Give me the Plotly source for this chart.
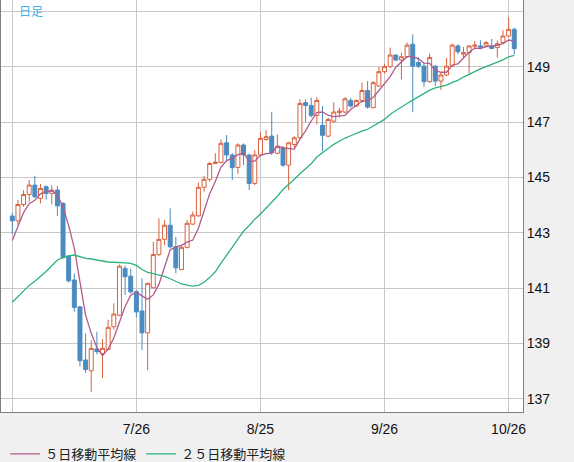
import pandas as pd
import plotly.graph_objects as go

# daily candles, 2023-06-26 .. 2023-10-27 (weekdays)
dates = [d.strftime("%Y-%m-%d") for d in pd.bdate_range("2023-06-26", "2023-10-27")]

opens = [143.60, 143.43, 144.02, 144.38, 144.72, 144.24, 144.66, 144.42, 144.54, 144.06,
         142.16, 141.29, 140.32, 138.40, 138.01, 138.80, 138.64, 138.78, 139.60, 140.02,
         141.71, 141.43, 140.87, 140.17, 139.38, 141.01, 142.21, 142.76, 143.27, 142.49,
         141.67, 142.47, 143.31, 143.61, 144.64, 144.93, 145.50, 145.54, 146.25, 145.81,
         145.36, 146.17, 145.81, 144.78, 145.81, 146.37, 146.49, 145.87, 146.07, 145.44,
         146.19, 146.43, 147.70, 147.60, 147.24, 146.88, 146.49, 147.03, 147.34, 147.36,
         147.78, 147.58, 147.78, 148.14, 147.52, 148.30, 148.82, 149.00, 149.42, 149.24,
         149.36, 149.81, 149.15, 149.02, 148.46, 149.02, 148.48, 148.70, 149.02, 149.75,
         149.45, 149.51, 149.74, 149.75, 149.75, 149.75, 149.69, 149.87, 150.11, 150.35]
highs = [143.72, 144.18, 144.54, 144.90, 145.05, 144.76, 144.72, 144.72, 144.69, 144.10,
         142.19, 141.53, 140.35, 139.36, 139.12, 139.42, 139.15, 139.85, 140.45, 141.85,
         141.80, 141.70, 140.92, 141.35, 141.19, 142.67, 143.52, 143.46, 143.88, 142.85,
         142.55, 143.46, 143.76, 144.81, 145.05, 145.56, 145.87, 146.37, 146.53, 145.87,
         146.23, 146.23, 145.85, 145.99, 146.63, 146.71, 147.37, 146.55, 146.13, 146.28,
         146.49, 147.82, 147.82, 147.88, 147.90, 147.58, 147.16, 147.72, 147.52, 147.90,
         147.88, 147.82, 148.42, 148.48, 148.48, 149.00, 149.10, 149.69, 149.44, 149.50,
         149.87, 150.17, 149.35, 149.14, 149.47, 149.05, 148.81, 149.32, 149.83, 149.81,
         149.71, 149.77, 149.93, 149.95, 149.93, 150.00, 149.95, 150.31, 150.79, 150.41]
lows = [142.95, 143.28, 143.94, 144.12, 144.24, 144.06, 144.20, 144.02, 143.60, 142.07,
        141.20, 140.14, 138.16, 137.94, 137.25, 138.60, 137.74, 138.76, 139.50, 139.98,
        140.75, 140.80, 139.94, 138.76, 138.03, 140.99, 142.15, 142.55, 142.43, 141.53,
        141.65, 142.43, 143.28, 143.58, 144.48, 144.84, 145.48, 145.50, 145.57, 144.90,
        145.12, 145.45, 144.54, 144.72, 145.77, 146.32, 145.81, 145.84, 145.38, 144.54,
        146.07, 146.40, 147.00, 147.16, 146.91, 145.95, 146.45, 146.97, 147.16, 147.31,
        147.52, 147.55, 147.70, 147.48, 147.50, 148.28, 148.75, 148.96, 149.20, 148.54,
        149.32, 147.36, 148.95, 148.26, 148.42, 148.30, 148.16, 148.66, 148.99, 149.45,
        149.32, 148.75, 149.63, 149.63, 149.69, 149.63, 149.33, 149.83, 150.07, 149.44]
closes = [143.43, 144.02, 144.38, 144.72, 144.30, 144.60, 144.42, 144.54, 143.97, 142.10,
          141.26, 140.30, 138.37, 138.06, 138.82, 138.70, 138.82, 139.58, 140.06, 141.79,
          141.41, 140.86, 140.14, 139.38, 141.17, 142.21, 142.76, 143.27, 142.49, 141.73,
          142.47, 143.34, 143.64, 144.64, 144.93, 145.50, 145.55, 146.23, 145.81, 145.35,
          146.17, 145.81, 144.78, 145.81, 146.41, 146.47, 145.89, 146.11, 145.44, 146.25,
          146.43, 147.67, 147.60, 147.24, 147.78, 146.52, 147.09, 147.36, 147.40, 147.84,
          147.58, 147.78, 148.14, 147.54, 148.42, 148.82, 149.00, 149.42, 149.24, 149.36,
          149.78, 149.02, 149.02, 148.46, 149.33, 148.48, 148.70, 149.02, 149.78, 149.54,
          149.51, 149.75, 149.78, 149.71, 149.87, 149.66, 149.83, 150.11, 150.35, 149.65]

# closes before the visible window (5/23 .. 6/23), needed for the averages
prior_closes = [138.60, 139.30, 139.95, 140.60, 140.40, 139.80, 139.30, 138.80, 139.95, 139.60,
                139.60, 140.10, 139.40, 139.35, 139.60, 140.20, 140.00, 140.30, 141.80, 141.90,
                141.45, 141.90, 143.10, 143.70]

tick_dates = ["2023-06-26", "2023-07-26", "2023-08-25", "2023-09-26", "2023-10-26"]
tick_text = ["", "7/26", "8/25", "9/26", "10/26"]
price_ticks = [137, 139, 141, 143, 145, 147, 149, 151]
price_text = ["137", "139", "141", "143", "145", "147", "149", ""]

all_close = pd.Series(prior_closes + closes)
n_prior = len(prior_closes)
ma5 = all_close.rolling(5).mean().iloc[n_prior:].tolist()
ma25 = all_close.rolling(25).mean().iloc[n_prior:].tolist()

RED = "#d9613c"
BLUE = "#4a8bc0"

fig = go.Figure()
fig.add_trace(go.Candlestick(
    x=dates, open=opens, high=highs, low=lows, close=closes,
    increasing=dict(line=dict(color=RED, width=1), fillcolor="white"),
    decreasing=dict(line=dict(color=BLUE, width=1), fillcolor=BLUE),
    whiskerwidth=0, showlegend=False, hoverinfo="skip"))
fig.add_trace(go.Scatter(x=dates, y=ma5, mode="lines", name="５日移動平均線",
                         line=dict(color="#b35a8c", width=1.3)))
fig.add_trace(go.Scatter(x=dates, y=ma25, mode="lines", name="２５日移動平均線",
                         line=dict(color="#2db37a", width=1.3)))

fig.update_layout(
    width=574, height=462,
    margin=dict(l=1, r=51, t=0, b=50, autoexpand=False),
    paper_bgcolor="#f0f0f0",
    plot_bgcolor="white",
    boxgap=0.3, boxgroupgap=0,
    font=dict(family="Liberation Sans, Arial, sans-serif", size=14, color="#111"),
    showlegend=True,
    legend=dict(orientation="h", x=0.008, xanchor="left", y=-0.102, yanchor="middle",
                bgcolor="rgba(0,0,0,0)",
                font=dict(family="Noto Sans CJK JP", size=13, color="#222")),
    annotations=[dict(text="日足", xref="paper", yref="paper", x=0.03, y=0.975,
                      xanchor="left", yanchor="middle", showarrow=False,
                      font=dict(family="Noto Sans CJK JP", size=12, color="#3cb4e6"))],
)
fig.update_xaxes(
    type="category", range=[-2.0, 90.55],
    tickmode="array", tickvals=tick_dates, ticktext=tick_text,
    showgrid=True, gridcolor="#c8c8c8", gridwidth=1,
    showline=True, linecolor="#7f7f7f", linewidth=1, mirror=True,
    ticks="", ticklabelstandoff=4, rangeslider=dict(visible=False),
)
fig.update_yaxes(
    side="right", range=[136.52, 151.41],
    tickmode="array", tickvals=price_ticks, ticktext=price_text,
    showgrid=True, gridcolor="#c8c8c8", gridwidth=1,
    showline=True, linecolor="#7f7f7f", linewidth=1, mirror=True,
    ticks="", zeroline=False,
)

# page body margin would shift the fixed-size figure
fig.write_html("out.html", config={"displayModeBar": False},
               post_script="document.body.style.margin='0';")
